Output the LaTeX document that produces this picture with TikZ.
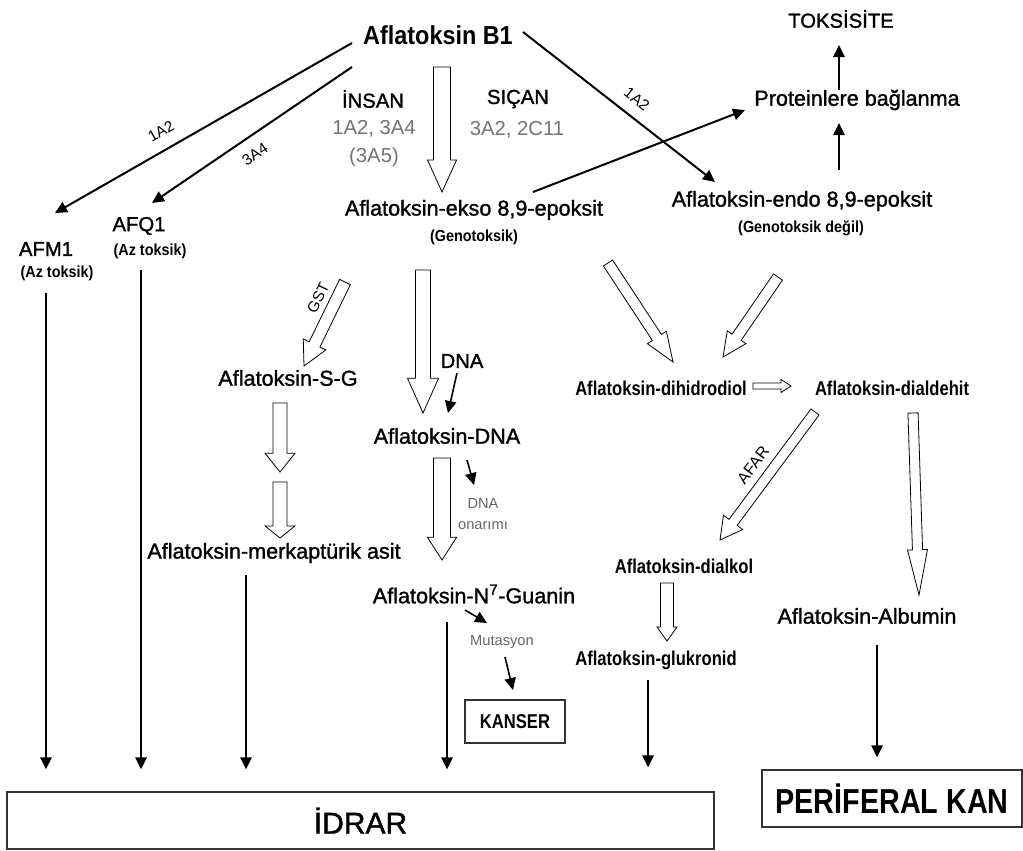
\documentclass[tikz,border=0pt]{standalone}
\usepackage{fontspec}
\setmainfont{Liberation Sans}
\newfontfamily\narrowsans[FakeStretch=0.83]{Liberation Sans}
\newfontfamily\semisans[FakeStretch=0.9]{Liberation Sans}
\newfontfamily\heavysans[FakeBold=1.3]{Liberation Sans}
\usetikzlibrary{arrows.meta,calc}

\tikzset{
every node/.style={inner sep=0pt},
mainlbl/.style={font=\heavysans\fontsize{16.2}{19}\selectfont},
caplbl/.style={font=\heavysans\fontsize{15.2}{18}\selectfont},
titlelbl/.style={font=\semisans\bfseries\fontsize{19.5}{22}\selectfont},
boldlbl/.style={font=\narrowsans\bfseries\fontsize{15}{17}\selectfont},
notelbl/.style={font=\semisans\bfseries\fontsize{12}{14}\selectfont},
greylbl/.style={text=black!55,align=center,font=\fontsize{15.2}{21}\selectfont},
smallgrey/.style={text=black!60,align=center,font=\fontsize{11}{16}\selectfont},
enzlbl/.style={font=\fontsize{11.5}{13}\selectfont},
boxx/.style={draw=black!80,line width=1pt},
blk/.style={line width=1.5pt,-{Triangle[length=9pt,width=8.5pt]}},
hollow/.style={draw,line width=0.6pt,fill=white,line join=miter}
}

% from, to, half shaft, half head, head length
\newcommand{\hollowarrow}[5]{%
\coordinate (ha) at #1; \coordinate (hb) at #2;
\coordinate (hm) at ($(hb)!#5!(ha)$);
\draw[hollow] ($(ha)!#3!90:(hb)$) -- ($(hm)!#3!90:(hb)$) -- ($(hm)!#4!90:(hb)$) -- (hb) -- ($(hm)!#4!-90:(hb)$) -- ($(hm)!#3!-90:(hb)$) -- ($(ha)!#3!-90:(hb)$) -- cycle;}

\begin{document}
\begin{tikzpicture}[x=0.75pt,y=-0.75pt]
\useasboundingbox (0,0) rectangle (1023,850);

% labels
\node[titlelbl] (b1) at (438,35) {Aflatoksin B1};
\node[caplbl] (toks) at (841,19) {TOKSİSİTE};
\node[mainlbl] (prot) at (857,100) {Proteinlere bağlanma};
\node[caplbl] (insan) at (373,99) {İNSAN};
\node[greylbl] (insanenz) at (374,144) {1A2, 3A4\\(3A5)};
\node[caplbl] (sican) at (518,99) {SIÇAN};
\node[greylbl] (sicanenz) at (517,130) {3A2, 2C11};
\node[mainlbl] (ekso) at (474,210) {Aflatoksin-ekso 8,9-epoksit};
\node[notelbl] (eksog) at (474,237) {(Genotoksik)};
\node[mainlbl] (endo) at (802,201) {Aflatoksin-endo 8,9-epoksit};
\node[notelbl] (endog) at (801,228) {(Genotoksik değil)};
\node[caplbl] (afm1) at (46,249) {AFM1};
\node[notelbl] (afm1t) at (57,273) {(Az toksik)};
\node[caplbl] (afq1) at (139,226) {AFQ1};
\node[notelbl] (afq1t) at (150,251) {(Az toksik)};
\node[mainlbl] (sg) at (288,378) {Aflatoksin-S-G};
\node[mainlbl] (merk) at (274,553) {Aflatoksin-merkaptürik asit};
\node[caplbl] (dna) at (462,361) {DNA};
\node[mainlbl] (afdna) at (447,436) {Aflatoksin-DNA};
\node[smallgrey] (onar) at (483,514) {DNA\\onarımı};
\node[mainlbl] (guanin) at (474,594) {Aflatoksin-N\textsuperscript{7}-Guanin};
\node[smallgrey] (mut) at (502,642) {Mutasyon};
\node[boxx,boldlbl,minimum width=75pt,minimum height=32.25pt] (kanser) at (515,721.5) {KANSER};
\node[boldlbl] (diol) at (661,388) {Aflatoksin-dihidrodiol};
\node[boldlbl] (aldehit) at (892,388) {Aflatoksin-dialdehit};
\node[boldlbl] (dialkol) at (684,566) {Aflatoksin-dialkol};
\node[boldlbl] (gluk) at (656,660) {Aflatoksin-glukronid};
\node[mainlbl] (albumin) at (867,616) {Aflatoksin-Albumin};
\node[boxx,minimum width=530.25pt,minimum height=42.75pt,font=\heavysans\fontsize{22.5}{26}\selectfont] (idrar) at (360.5,820.5) {İDRAR};
\node[boxx,minimum width=195pt,minimum height=42.75pt,font=\narrowsans\bfseries\fontsize{26}{30}\selectfont] (peri) at (892,798.5) {PERİFERAL KAN};

% enzyme labels on arrows
\node[enzlbl,rotate=30] (e1) at (161,131) {1A2};
\node[enzlbl,rotate=34] (e2) at (255,154) {3A4};
\node[enzlbl,rotate=-38] (e3) at (637,99) {1A2};
\node[enzlbl,rotate=64] (gst) at (318,298) {GST};
\node[enzlbl,rotate=53,font=\fontsize{12}{14}\selectfont] (afar) at (753,465) {AFAR};

% black arrows
\draw[blk] ([shift={(-86,8)}]b1.center) -- ([shift={(9,-36)}]afm1.center);
\draw[blk] ([shift={(-86,32)}]b1.center) -- ([shift={(13,-23)}]afq1.center);
\draw[blk] ([shift={(85,-3)}]b1.center) -- ([shift={(-87,-19)}]endo.center);
\draw[blk] ([shift={(59,-18)}]ekso.center) -- ([shift={(-112,10)}]prot.center);
\draw[blk] ([shift={(37,-31)}]endo.center) -- ([shift={(-18,23)}]prot.center);
\draw[blk] ([shift={(-18,-10)}]prot.center) -- ([shift={(-2,26)}]toks.center);
\draw[blk,line width=1.2pt] ([shift={(-5,12)}]dna.center) -- ([shift={(1,-23)}]afdna.center);
\draw[blk,line width=1.2pt] ([shift={(20,24)}]afdna.center) -- ([shift={(-9,-29)}]onar.center);
\draw[blk,line width=1.2pt] ([shift={(-9,16)}]guanin.center) -- ([shift={(-15,-19)}]mut.center);
\draw[blk,line width=1.2pt] ([shift={(3,15)}]mut.center) -- ([shift={(-2,-31.5)}]kanser.center);

% down to idrar and kan
\coordinate (u1) at ([shift={(-11,20)}]afm1t.center);
\coordinate (u2) at ([shift={(-9,19)}]afq1t.center);
\coordinate (u3) at ([shift={(-28,22)}]merk.center);
\coordinate (u4) at ([shift={(-27,28)}]guanin.center);
\coordinate (u5) at ([shift={(-8,20)}]gluk.center);
\coordinate (u6) at ([shift={(10,29)}]albumin.center);
\foreach \u in {u1,u2,u3,u4}
  \draw[blk,shorten >=16.5pt] (\u) -- (\u |- idrar.north);
\draw[blk,shorten >=18pt] (u5) -- (u5 |- idrar.north);
\draw[blk,shorten >=9pt] (u6) -- (u6 |- peri.north);

% hollow arrows
\hollowarrow{([shift={(4,32)}]b1.center)}{([shift={(-32,-18)}]ekso.center)}{6.4pt}{10.9pt}{24pt}
\hollowarrow{([shift={(-51,60)}]ekso.center)}{([shift={(-24,-23)}]afdna.center)}{5.6pt}{11.6pt}{26pt}
\hollowarrow{([shift={(-5,22)}]afdna.center)}{([shift={(-32,-34)}]guanin.center)}{6.4pt}{10.9pt}{17pt}
\hollowarrow{([shift={(-129,72)}]ekso.center)}{([shift={(16,-12)}]sg.center)}{4.5pt}{9.4pt}{18pt}
\hollowarrow{([shift={(-8,25)}]sg.center)}{([shift={(-8,94)}]sg.center)}{5.2pt}{11.2pt}{14pt}
\hollowarrow{([shift={(6,-71)}]merk.center)}{([shift={(6,-15)}]merk.center)}{5.2pt}{11.2pt}{9pt}
\hollowarrow{([shift={(134,53)}]ekso.center)}{([shift={(12,-26)}]diol.center)}{4.1pt}{8.5pt}{22pt}
\hollowarrow{([shift={(-24,76)}]endo.center)}{([shift={(62,-31)}]diol.center)}{4.1pt}{8.5pt}{18pt}
\hollowarrow{([shift={(92,-2)}]diol.center)}{([shift={(-101,-2)}]aldehit.center)}{2.2pt}{4.9pt}{7.5pt}
\hollowarrow{([shift={(-77,24)}]aldehit.center)}{([shift={(36,-26)}]dialkol.center)}{3.8pt}{9pt}{16.5pt}
\hollowarrow{([shift={(21,25)}]aldehit.center)}{([shift={(52,-21)}]albumin.center)}{3.8pt}{7.5pt}{34pt}
\hollowarrow{([shift={(-17,17)}]dialkol.center)}{([shift={(11,-19)}]gluk.center)}{4.9pt}{7.5pt}{10.5pt}
\end{tikzpicture}
\end{document}
